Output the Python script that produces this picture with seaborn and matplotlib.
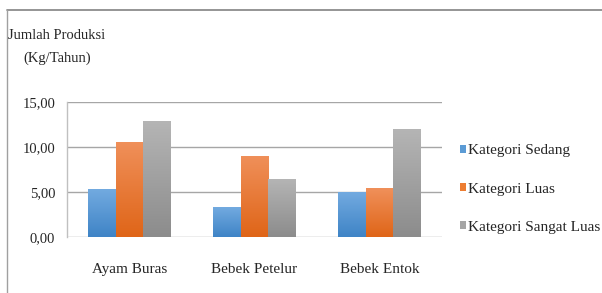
import numpy as np
import pandas as pd
import matplotlib
matplotlib.use('Agg')
import matplotlib.pyplot as plt
import seaborn as sns
from matplotlib.colors import LinearSegmentedColormap
from matplotlib.patches import Patch
from matplotlib.lines import Line2D

categories = ['Ayam Buras', 'Bebek Petelur', 'Bebek Entok']
series = ['Kategori Sedang', 'Kategori Luas', 'Kategori Sangat Luas']
sedang = [5.3, 3.3, 5.0]
luas = [10.6, 9.0, 5.4]
sangat_luas = [12.9, 6.5, 12.0]
yticks = [0, 5, 10, 15]
ytick_labels = ['0,00', '5,00', '10,00', '15,00']

# top / bottom colours of each bar gradient
grad_colors = {
    'Kategori Sedang': ('#72aae0', '#3f84c6'),
    'Kategori Luas': ('#f0905a', '#df6518'),
    'Kategori Sangat Luas': ('#b5b5b5', '#8c8c8c'),
}
legend_colors = ['#5b9bd5', '#ed7d31', '#a5a5a5']
FONT = 'Liberation Serif'

df = pd.DataFrame({
    'Jenis': categories * 3,
    'Kategori': [s for s in series for _ in categories],
    'Produksi': sedang + luas + sangat_luas,
})

sns.set_style('white')
plt.rcParams['font.family'] = FONT

fig = plt.figure(figsize=(6.02, 2.93), dpi=100)
ax = fig.add_axes([67 / 602, 1 - 237 / 293, 375 / 602, 135 / 293])

sns.barplot(data=df, x='Jenis', y='Produksi', hue='Kategori', order=categories,
            hue_order=series, palette=legend_colors, width=0.67, gap=0,
            saturation=1, legend=False, ax=ax)

# gradient fill per bar, clipped to the seaborn bar
bars = list(ax.patches)
for i, p in enumerate(bars):
    s = series[i // len(categories)]
    top, bot = grad_colors[s]
    cmap = LinearSegmentedColormap.from_list(s, [bot, top])
    x0, w, h = p.get_x(), p.get_width(), p.get_height()
    grad = np.linspace(1, 0, 100).reshape(-1, 1)
    im = ax.imshow(grad, cmap=cmap, extent=[x0, x0 + w, 0, h], aspect='auto',
                   vmin=0, vmax=1, zorder=p.get_zorder(), interpolation='bicubic')
    im.set_clip_path(p)
    p.set_facecolor('none')
    p.set_edgecolor('none')

ax.set_xlim(-0.5, 2.5)
ax.set_ylim(0, 15)
ax.set_yticks(yticks)
ax.set_yticklabels(ytick_labels, family=FONT, fontsize=10.5)
ax.set_xticks(range(len(categories)))
ax.set_xticklabels(categories, family=FONT, fontsize=11)
ax.yaxis.grid(True, color='#a6a6a6', linewidth=1.0)
ax.set_axisbelow(True)
ax.set_xlabel('')
ax.set_ylabel('')
ax.tick_params(axis='y', length=0, pad=8.5)
ax.tick_params(axis='x', length=0, pad=19)
for side in ['top', 'right', 'bottom']:
    ax.spines[side].set_visible(False)
ax.spines['left'].set_color('#c0c0c0')
ax.spines['left'].set_linewidth(1.0)

fig.text(57 / 602, 1 - 47 / 293, 'Jumlah Produksi\n(Kg/Tahun)', ha='center',
         va='center', fontsize=10.5, linespacing=1.93, multialignment='center',
         family=FONT)

handles = [Patch(facecolor=c, edgecolor='none') for c in legend_colors]
fig.legend(handles, series, loc='center left', bbox_to_anchor=(460 / 602, 1 - 189 / 293),
           frameon=False, prop={'family': FONT, 'size': 11}, handlelength=0.4,
           handleheight=0.4, handletextpad=0.1, labelspacing=1.65, borderpad=0,
           borderaxespad=0)

# outer chart frame (top and left edges)
fig.add_artist(Line2D([7 / 602, 1], [1 - 9.5 / 293, 1 - 9.5 / 293], color='#8c8c8c',
                      linewidth=1.3, transform=fig.transFigure))
fig.add_artist(Line2D([7 / 602, 7 / 602], [0, 1 - 9.5 / 293], color='#a0a0a0',
                      linewidth=1.0, transform=fig.transFigure))

fig.savefig('out.png', dpi=100)
